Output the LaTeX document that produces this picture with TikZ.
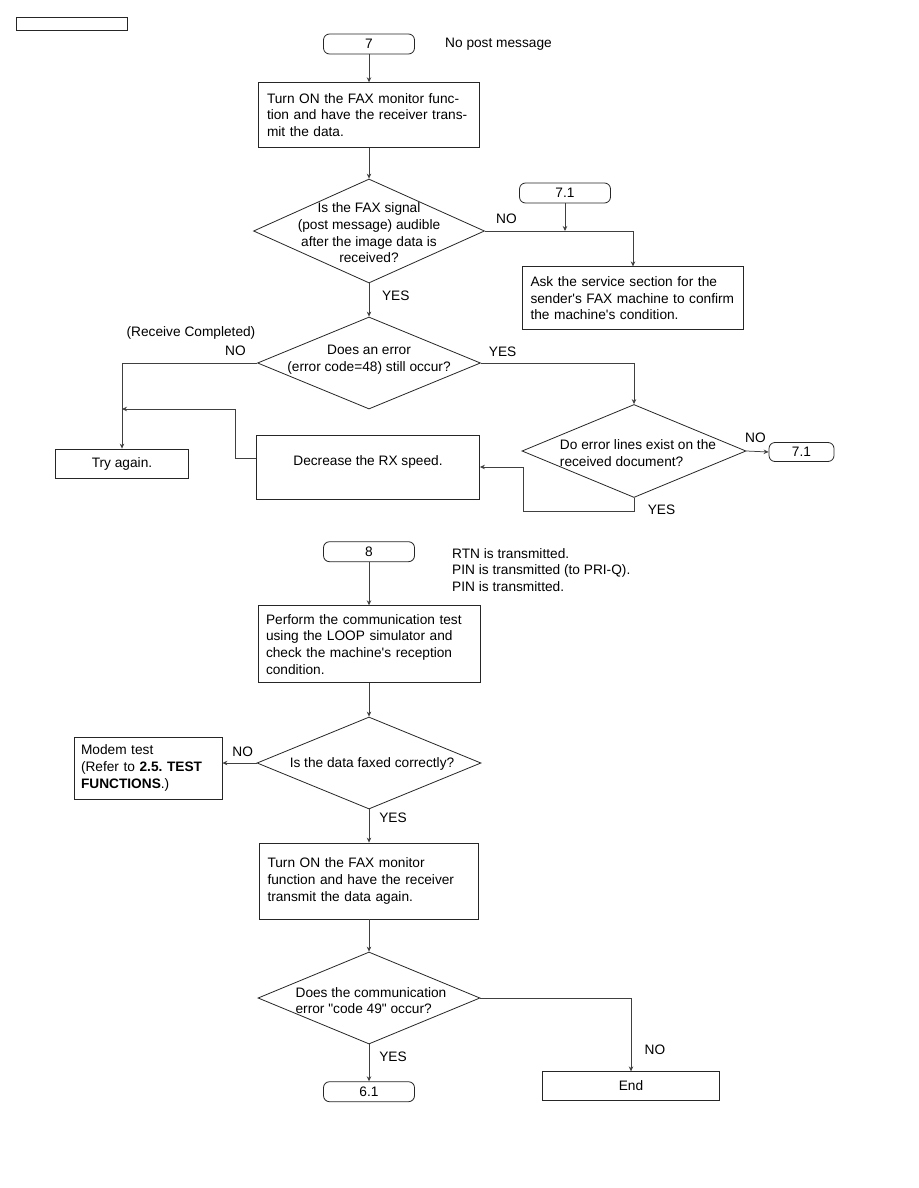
\documentclass[tikz,border=0pt]{standalone}
\usepackage{fontspec}
\setmainfont{Liberation Sans}[Ligatures=TeXOff]
\usetikzlibrary{shapes.geometric,arrows.meta}
\newcommand\myfs{\fontsize{13.7pt}{16.7pt}\selectfont}
\frenchspacing
\tikzset{
  boxn/.style={draw=black!85, line width=0.8pt, rectangle, inner ysep=0pt},
  termn/.style={draw=black!85, line width=0.8pt, rounded corners=6pt, minimum width=91pt, minimum height=20pt, inner sep=0pt},
  dian/.style={draw=black!85, line width=0.8pt, diamond, inner sep=0pt},
  arr/.style={-{Stealth[length=5pt,width=4.5pt]}, line width=0.75pt, draw=black!75},
  lbl/.style={inner sep=0pt}
}
\begin{document}
\begin{tikzpicture}[x=1pt,y=-1pt,font=\myfs]
\useasboundingbox (0,0) rectangle (918,1188);
\fill[white] (0,0) rectangle (918,1188);

\node[draw=black!85, line width=0.8pt, minimum width=110.5pt, minimum height=13.4pt, inner sep=0pt] (hdr) at (71.75,24) {};

% ---- section 7 ----
\node[termn] (t7) at (369,44) {7};
\node[lbl, anchor=west] (np) at (445,44) {No post message};
\node[boxn, minimum width=221pt, minimum height=64.6pt, text width=204pt, inner xsep=8.5pt, align=left] (b1) at (369,115)
  {Turn ON the FAX monitor func-\\tion and have the receiver trans-\\mit the data.};
\node[dian, minimum width=231pt, minimum height=104pt] (d1) at (369,231) {};
\node[lbl, align=center] (d1t) at (369,233) {Is the FAX signal\\(post message) audible\\after the image data is\\received?};
\node[termn] (t71a) at (565,193) {7.1};
\node[boxn, minimum width=221pt, minimum height=63pt, text width=205pt, inner xsep=8pt, align=left] (ask) at (633,298.3)
  {Ask the service section for the\\sender's FAX machine to confirm\\the machine's condition.};
\node[lbl] (no1) at (506.5,219) {NO};
\node[lbl] (yes1) at (395.8,296) {YES};

\node[dian, minimum width=223pt, minimum height=92pt] (d2) at (369,363) {};
\node[lbl, align=center] (d2t) at (369,360) {Does an error\\(error code=48) still occur?};
\node[lbl] (rc) at (191,333) {(Receive Completed)};
\node[lbl] (no2) at (235.4,351) {NO};
\node[lbl] (yes2) at (502.6,352) {YES};

\node[boxn, minimum width=133pt, minimum height=29pt] (try) at (122,463.5) {Try again.};
\node[boxn, minimum width=223pt, minimum height=64pt, align=center] (dec) at (368,467) {\raisebox{12pt}{Decrease the RX speed.}};
\node[dian, minimum width=224pt, minimum height=93pt] (d3) at (634,451) {};
\node[lbl, align=left] (d3t) at (638,453) {Do error lines exist on the\\received document?};
\node[termn, minimum width=65pt, minimum height=19pt] (t71b) at (801.5,452) {7.1};
\node[lbl] (no3) at (755.4,438) {NO};
\node[lbl] (yes3) at (661.5,510) {YES};

\coordinate (la) at (523.6,511);
\coordinate (ld) at (235,409);

\draw[arr] (t7.south) -- (b1.north);
\draw[arr] (b1.south) -- (d1.north);
\draw[arr] (d1.east) -| (ask.north);
\draw[arr] (t71a.south) -- (t71a.south |- d1.east);
\draw[arr] (d1.south) -- (d2.north);
\draw[arr] (d2.west) -| (try.north);
\draw[arr] (d2.east) -| (d3.north);
\draw[arr] (d3.east) -- (t71b.west);
\draw[arr] (d3.south) |- (la) |- (dec.east);
\draw[arr] ([yshift=9pt]dec.west) -| (ld) -- (ld -| try.north);

% ---- section 8 ----
\node[termn] (t8) at (369,551.7) {8};
\node[lbl, anchor=west, align=left] (rtn) at (452,570) {RTN is transmitted.\\PIN is transmitted (to PRI-Q).\\PIN is transmitted.};
\node[boxn, minimum width=222pt, minimum height=77pt, text width=206pt, inner xsep=8pt, align=left] (b2) at (369,644.2)
  {Perform the communication test\\using the LOOP simulator and\\check the machine's reception\\condition.};
\node[dian, minimum width=224pt, minimum height=92pt] (d4) at (369,763) {};
\node[lbl] (d4t) at (372,764) {Is the data faxed correctly?};
\node[boxn, minimum width=148pt, minimum height=62pt, text width=134pt, inner xsep=7pt, align=left] (mod) at (148,768)
  {Modem test\\(Refer to \textbf{2.5. TEST}\\\textbf{FUNCTIONS}.)};
\node[lbl] (no4) at (242.7,751.7) {NO};
\node[lbl] (yes4) at (393,818) {YES};
\node[boxn, minimum width=219pt, minimum height=76pt, text width=203pt, inner xsep=8pt, align=left] (b3) at (369,881)
  {Turn ON the FAX monitor\\function and have the receiver\\transmit the data again.\\[6pt]};
\node[dian, minimum width=222pt, minimum height=92pt] (d5) at (369,998) {};
\node[lbl, align=left] (d5t) at (371,1000.5) {Does the communication\\error "code 49" occur?};
\node[termn] (t61) at (369,1091.7) {6.1};
\node[boxn, minimum width=177.6pt, minimum height=28.5pt] (end) at (631,1086) {End};
\node[lbl] (yes5) at (393,1056.7) {YES};
\node[lbl] (no5) at (655,1050) {NO};

\draw[arr] (t8.south) -- (b2.north);
\draw[arr] (b2.south) -- (d4.north);
\draw[arr] (d4.west) -- (d4.west -| mod.east);
\draw[arr] (d4.south) -- (b3.north);
\draw[arr] (b3.south) -- (d5.north);
\draw[arr] (d5.south) -- (t61.north);
\draw[arr] (d5.east) -| (end.north);
\end{tikzpicture}
\end{document}
